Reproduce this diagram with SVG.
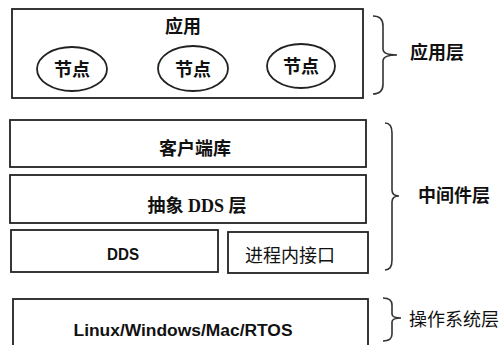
<svg xmlns="http://www.w3.org/2000/svg" width="504" height="345" viewBox="0 0 504 345">
<style>
.box{fill:#fff;stroke:#222;stroke-width:1.8}
.brace{fill:none;stroke:#333;stroke-width:1.6}
.serif{font-family:"Liberation Serif","Noto Sans CJK SC",serif;font-size:18px;font-weight:bold;fill:#111;text-anchor:middle;dominant-baseline:central}
.sans{font-family:"Noto Sans CJK SC","Liberation Sans",sans-serif;font-size:18px;fill:#111;text-anchor:middle;dominant-baseline:central}
.bold{font-family:"Liberation Sans",Arial,sans-serif;font-size:16px;font-weight:bold;fill:#111;text-anchor:middle;dominant-baseline:central}
</style>
<rect width="504" height="345" fill="#fff"/>
<g id="app">
<rect class="box" x="12" y="9" width="351" height="89"/>
<text class="serif" x="183" y="27">应用</text>
</g>
<g id="node1"><ellipse class="box" cx="72" cy="69" rx="35" ry="22"/><text class="serif" x="72" y="70">节点</text></g>
<g id="node2"><ellipse class="box" cx="193" cy="68.5" rx="35" ry="22.5"/><text class="serif" x="193" y="70">节点</text></g>
<g id="node3"><ellipse class="box" cx="301" cy="66" rx="34" ry="22"/><text class="serif" x="301" y="67">节点</text></g>
<g id="client"><rect class="box" x="10" y="120" width="356" height="47"/><text class="serif" x="195" y="149">客户端库</text></g>
<g id="abstract"><rect class="box" x="10" y="175" width="356" height="48"/><text class="serif" x="197" y="206">抽象 DDS 层</text></g>
<g id="dds"><rect class="box" x="11" y="230" width="207" height="42"/><text class="bold" x="123" y="254" textLength="32" lengthAdjust="spacingAndGlyphs">DDS</text></g>
<g id="inproc"><rect class="box" x="228" y="232" width="140" height="41"/><text class="sans" x="290" y="254">进程内接口</text></g>
<g id="os"><rect class="box" x="13" y="299" width="355" height="60"/><text class="bold" x="183" y="330" textLength="219" lengthAdjust="spacingAndGlyphs">Linux/Windows/Mac/RTOS</text></g>
<g id="braces">
<path class="brace" d="M373,16 Q383,16 383,26 L383,49 Q383,55 397,55 Q383,55 383,61 L383,84 Q383,94 373,94"/>
<path class="brace" d="M385,123 Q392,123 392,133 L392,190 Q392,196 399,196 Q392,196 392,202 L392,260 Q392,270 385,270"/>
<path class="brace" d="M383,298 Q392,298 392,305 L392,314 Q392,318 401,318 Q392,318 392,322 L392,334 Q392,341 383,341"/>
</g>
<g id="labels">
<text class="serif" x="437" y="53">应用层</text>
<text class="serif" x="454" y="196">中间件层</text>
<text class="sans" x="454" y="318">操作系统层</text>
</g>
</svg>
